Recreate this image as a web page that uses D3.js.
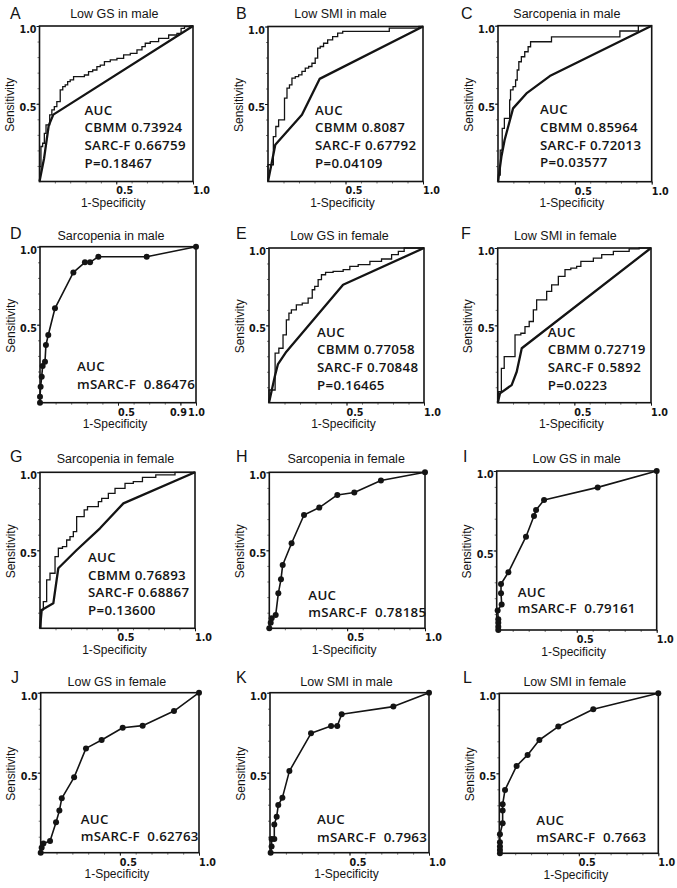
<!DOCTYPE html>
<html><head><meta charset="utf-8">
<script src="https://cdn.jsdelivr.net/npm/d3@7/dist/d3.min.js"></script>
<style>body{margin:0;background:#fff}svg{display:block}</style>
</head><body>
<svg id="chart" width="677" height="888"></svg>
<script>
// ---------------- DATA ----------------
const panelLetters = ["A","B","C","D","E","F","G","H","I","J","K","L"];
const panelTitles = ["Low GS in male","Low SMI in male","Sarcopenia in male","Sarcopenia in male",
  "Low GS in female","Low SMI in female","Sarcopenia in female","Sarcopenia in female",
  "Low GS in male","Low GS in female","Low SMI in male","Low SMI in female"];
const aucTexts = [
  ["AUC","CBMM 0.73924","SARC-F 0.66759","P=0.18467"],
  ["AUC","CBMM 0.8087","SARC-F 0.67792","P=0.04109"],
  ["AUC","CBMM 0.85964","SARC-F 0.72013","P=0.03577"],
  ["AUC","mSARC-F  0.86476"],
  ["AUC","CBMM 0.77058","SARC-F 0.70848","P=0.16465"],
  ["AUC","CBMM 0.72719","SARC-F 0.5892","P=0.0223"],
  ["AUC","CBMM 0.76893","SARC-F 0.68867","P=0.13600"],
  ["AUC","mSARC-F  0.78185"],
  ["AUC","mSARC-F  0.79161"],
  ["AUC","mSARC-F  0.62763"],
  ["AUC","mSARC-F  0.7963"],
  ["AUC","mSARC-F  0.7663"]
];
const xTickValues = [0.5, 1.0];
const xTickValuesD = [0.5, 0.9, 1.0];
const yTickValues = [0.5, 1.0];
const minorTickValues = [0.1,0.2,0.3,0.4,0.5,0.6,0.7,0.8,0.9,1.0];

// CBMM (stepped) and SARC-F curves, [1-specificity, sensitivity]
const cbmmA = [[0,0],[0.004,0.096],[0.015,0.225],[0.026,0.246],[0.037,0.31],[0.048,0.364],[0.063,0.364],[0.07,0.428],[0.091,0.46],[0.102,0.482],[0.124,0.514],[0.146,0.589],[0.157,0.61],[0.178,0.621],[0.189,0.642],[0.211,0.653],[0.233,0.675],[0.276,0.675],[0.309,0.685],[0.33,0.707],[0.363,0.717],[0.385,0.739],[0.407,0.749],[0.439,0.771],[0.483,0.782],[0.526,0.792],[0.57,0.814],[0.613,0.824],[0.657,0.846],[0.678,0.867],[0.7,0.889],[0.743,0.9],[0.809,0.921],[0.874,0.942],[0.917,0.953],[0.928,0.985],[0.961,0.996],[1,1]];
const sarcfA = [[0,0],[0.03,0.15],[0.06,0.36],[0.09,0.43],[1,1]];

const cbmmB = [[0,0],[0,0.108],[0.026,0.108],[0.043,0.29],[0.058,0.355],[0.079,0.398],[0.101,0.398],[0.112,0.538],[0.133,0.602],[0.144,0.624],[0.165,0.667],[0.187,0.677],[0.208,0.688],[0.23,0.71],[0.251,0.731],[0.273,0.742],[0.294,0.763],[0.315,0.796],[0.326,0.86],[0.348,0.871],[0.369,0.892],[0.401,0.914],[0.433,0.935],[0.466,0.957],[0.498,0.968],[0.777,0.968],[0.788,0.989],[0.948,0.989],[1,1]];
const sarcfB = [[0,0],[0.02,0.1],[0.047,0.237],[0.219,0.43],[0.333,0.662],[1,1]];

const cbmmC = [[0,0],[0.007,0.043],[0.022,0.203],[0.033,0.342],[0.05,0.406],[0.076,0.406],[0.076,0.524],[0.087,0.588],[0.109,0.609],[0.12,0.652],[0.13,0.716],[0.141,0.769],[0.163,0.801],[0.185,0.833],[0.207,0.865],[0.217,0.897],[0.337,0.897],[0.359,0.929],[0.793,0.929],[0.793,0.966],[0.913,0.966],[0.913,1],[1,1]];
const sarcfC = [[0,0],[0.022,0.16],[0.043,0.267],[0.098,0.47],[0.185,0.566],[0.337,0.677],[1,1]];

const cbmmE = [[0,0],[0,0.082],[0.032,0.082],[0.047,0.32],[0.08,0.352],[0.101,0.438],[0.123,0.536],[0.134,0.579],[0.155,0.6],[0.198,0.633],[0.231,0.644],[0.274,0.676],[0.284,0.73],[0.306,0.752],[0.328,0.795],[0.349,0.827],[0.381,0.842],[0.446,0.849],[0.511,0.86],[0.532,0.881],[0.619,0.892],[0.683,0.914],[0.769,0.929],[0.813,0.957],[0.856,0.978],[0.888,1],[1,1]];
const sarcfE = [[0,0],[0.037,0.168],[0.058,0.25],[0.112,0.33],[0.478,0.762],[1,1]];

const cbmmF = [[0,0],[0.011,0.071],[0.037,0.222],[0.048,0.298],[0.091,0.298],[0.135,0.438],[0.167,0.449],[0.189,0.492],[0.222,0.525],[0.243,0.6],[0.265,0.665],[0.309,0.665],[0.33,0.719],[0.374,0.762],[0.417,0.816],[0.461,0.86],[0.493,0.87],[0.537,0.881],[0.548,0.914],[0.602,0.914],[0.646,0.935],[0.711,0.957],[0.798,0.978],[0.917,0.994],[0.928,1],[1,1]];
const sarcfF = [[0,0],[0.015,0.06],[0.091,0.114],[0.124,0.2],[0.157,0.352],[1,1]];

const cbmmG = [[0,0],[0.011,0.118],[0.032,0.171],[0.054,0.31],[0.075,0.353],[0.086,0.353],[0.108,0.459],[0.129,0.513],[0.161,0.524],[0.183,0.566],[0.204,0.588],[0.226,0.62],[0.247,0.716],[0.28,0.716],[0.29,0.759],[0.323,0.78],[0.366,0.78],[0.387,0.812],[0.409,0.833],[0.473,0.865],[0.495,0.897],[0.538,0.897],[0.559,0.929],[0.645,0.94],[0.677,0.968],[0.817,0.983],[0.925,1],[1,1]];
const sarcfG = [[0,0],[0.011,0.118],[0.086,0.16],[0.118,0.385],[0.237,0.502],[0.387,0.641],[0.538,0.801],[1,1]];

// mSARC-F curves with points
const msarcfD = [[0,0],[0,0.038],[0.004,0.103],[0.011,0.167],[0.017,0.235],[0.032,0.263],[0.038,0.37],[0.053,0.434],[0.096,0.605],[0.214,0.835],[0.288,0.9],[0.321,0.9],[0.374,0.936],[0.684,0.936],[1,1]];
const msarcfH = [[0,0],[0.009,0.036],[0.015,0.064],[0.041,0.085],[0.058,0.224],[0.075,0.314],[0.086,0.406],[0.143,0.545],[0.223,0.726],[0.321,0.774],[0.437,0.855],[0.546,0.87],[0.717,0.947],[1,1]];
const msarcfI = [[0.01,0],[0.01,0.021],[0.01,0.046],[0.01,0.067],[0.006,0.122],[0.031,0.161],[0.027,0.231],[0.027,0.289],[0.073,0.363],[0.183,0.587],[0.233,0.717],[0.246,0.755],[0.296,0.818],[0.631,0.897],[1,1]];
const msarcfJ = [[0,0],[0.006,0.031],[0.017,0.058],[0.059,0.073],[0.097,0.19],[0.118,0.263],[0.133,0.34],[0.211,0.471],[0.286,0.652],[0.385,0.704],[0.518,0.781],[0.644,0.794],[0.842,0.885],[1,1]];
const msarcfK = [[0.004,0],[0.01,0.038],[0.01,0.085],[0.027,0.085],[0.027,0.177],[0.042,0.225],[0.052,0.298],[0.078,0.344],[0.122,0.51],[0.258,0.746],[0.384,0.792],[0.423,0.792],[0.451,0.865],[0.776,0.913],[1,1]];
const msarcfL = [[0.004,0],[0.004,0.021],[0.004,0.042],[0.004,0.069],[0.004,0.119],[0.021,0.188],[0.021,0.267],[0.021,0.306],[0.036,0.396],[0.109,0.546],[0.178,0.615],[0.252,0.708],[0.371,0.792],[0.591,0.9],[1,1]];

// ---------------- LAYOUT ----------------
// box: [left, top, width, height]
const layout = [
  {box:[39.5,26,153.5,155.5], letterX:10, titleDx:-2, aucDx:45, aucY:88.5, aucGap:17.7},
  {box:[268,26.5,155,155], letterX:236, titleDx:-5, aucDx:47, aucY:88, aucGap:17.7},
  {box:[498,25.7,153.7,156], letterX:461, titleDx:-8, aucDx:42, aucY:88.5, aucGap:17.7},
  {box:[40,246.7,156,156], letterX:10, titleDx:-7, aucDx:37, aucY:124.5, aucGap:18},
  {box:[269,248,155,154.7], letterX:236, titleDx:-7, aucDx:48, aucY:88.5, aucGap:17.7},
  {box:[497.7,248,153.3,154.7], letterX:461, titleDx:-9, aucDx:50, aucY:88.5, aucGap:17.7},
  {box:[40,472.3,155,156], letterX:10, titleDx:-2, aucDx:48, aucY:89.5, aucGap:17.7},
  {box:[269.3,472.3,155.7,156], letterX:236, titleDx:-1, aucDx:39, aucY:127.5, aucGap:16.8},
  {box:[496.7,471,160,159], letterX:463, titleDx:0, aucDx:21, aucY:125.5, aucGap:16.8},
  {box:[40.7,692.7,158.3,160], letterX:11, titleDx:-3, aucDx:40, aucY:131.5, aucGap:16.8},
  {box:[270,692.7,159,160], letterX:236, titleDx:-3, aucDx:47, aucY:131.5, aucGap:17.5},
  {box:[499.3,693.3,159,160], letterX:463, titleDx:-4, aucDx:37, aucY:131.5, aucGap:17}
];
const letterBaseline = [18.5,18.5,18.5,239,239,239,461.5,461.5,461.5,683.3,683.3,683.3];
const titleBaseline = [17.5,17.5,17.5,240,240,240,463,463,463,685.5,685.5,685.5];

const curveSets = [
  {step:cbmmA, thick:sarcfA},
  {step:cbmmB, thick:sarcfB},
  {step:cbmmC, thick:sarcfC},
  {dots:msarcfD},
  {step:cbmmE, thick:sarcfE},
  {step:cbmmF, thick:sarcfF},
  {step:cbmmG, thick:sarcfG},
  {dots:msarcfH},
  {dots:msarcfI},
  {dots:msarcfJ},
  {dots:msarcfK},
  {dots:msarcfL}
];

const INK = "#141414";
const svg = d3.select("#chart");

panelLetters.forEach((letter, i) => {
  const L = layout[i];
  const [left, top, w, h] = L.box;
  const x = d3.scaleLinear().domain([0,1]).range([left, left + w]);
  const y = d3.scaleLinear().domain([0,1]).range([top + h, top]);
  const g = svg.append("g");

  // panel letter
  g.append("text").attr("x", L.letterX).attr("y", letterBaseline[i])
    .attr("font-family","Liberation Sans, Arial, sans-serif").attr("font-size",16)
    .attr("fill",INK).text(letter);
  // title
  g.append("text").attr("x", left + w/2 + L.titleDx).attr("y", titleBaseline[i])
    .attr("text-anchor","middle")
    .attr("font-family","Liberation Sans, Arial, sans-serif").attr("font-size",12.5)
    .attr("fill",INK).text(panelTitles[i]);

  // minor ticks
  const minorX = d3.axisBottom(x).tickValues(minorTickValues).tickSize(2).tickFormat("");
  const minorY = d3.axisLeft(y).tickValues(minorTickValues).tickSize(2).tickFormat("");
  const gmx = g.append("g").attr("transform",`translate(0,${top+h})`).call(minorX);
  const gmy = g.append("g").attr("transform",`translate(${left},0)`).call(minorY);
  [gmx, gmy].forEach(a => { a.select(".domain").remove(); a.selectAll("line").attr("stroke","#555").attr("stroke-width",0.8); });

  // major axes
  const xt = (letter === "D") ? xTickValuesD : xTickValues;
  const xAxis = d3.axisBottom(x).tickValues(xt).tickSize(3).tickPadding(3).tickFormat(d3.format(".1f"));
  const yAxis = d3.axisLeft(y).tickValues(yTickValues).tickSize(3).tickPadding(0).tickFormat(d3.format(".1f"));
  const gx = g.append("g").attr("transform",`translate(0,${top+h})`).call(xAxis);
  const gy = g.append("g").attr("transform",`translate(${left},0)`).call(yAxis);
  [gx, gy].forEach(a => {
    a.select(".domain").remove();
    a.selectAll("line").attr("stroke",INK).attr("stroke-width",1);
    a.selectAll("text").attr("font-family","DejaVu Sans, Verdana, sans-serif")
      .attr("font-weight","bold").attr("font-size",9.6).attr("fill",INK);
  });
  gx.selectAll("text").attr("dx", d => (letter === "D" && d >= 0.9) ? (d >= 0.95 ? 0 : -2.5) : 8);
  gy.selectAll("text").attr("dy","0.68em");

  // axis titles
  g.append("text")
    .attr("transform",`translate(${left-29.5},${top+h/2+1}) rotate(-90)`)
    .attr("text-anchor","middle").attr("dominant-baseline","central")
    .attr("font-family","Liberation Sans, Arial, sans-serif").attr("font-size",12)
    .attr("fill",INK).text("Sensitivity");
  g.append("text")
    .attr("x", left + w/2 - 3).attr("y", top + h + 21.5)
    .attr("text-anchor","middle").attr("dominant-baseline","central")
    .attr("font-family","Liberation Sans, Arial, sans-serif").attr("font-size",12)
    .attr("fill",INK).text("1-Specificity");

  // curves
  const cs = curveSets[i];
  const clipId = "clip" + letter;
  svg.append("clipPath").attr("id", clipId).append("rect")
    .attr("x", left - 4).attr("y", top - 4).attr("width", w + 8).attr("height", h + 8);
  const plot = g.append("g").attr("clip-path", `url(#${clipId})`);
  if (cs.step) {
    const stepLine = d3.line().x(d => x(d[0])).y(d => y(d[1])).curve(d3.curveStep);
    plot.append("path").datum(cs.step).attr("d", stepLine)
      .attr("fill","none").attr("stroke",INK).attr("stroke-width",1.3).attr("stroke-linejoin","miter");
  }
  if (cs.thick) {
    const line = d3.line().x(d => x(d[0])).y(d => y(d[1]));
    plot.append("path").datum(cs.thick).attr("d", line)
      .attr("fill","none").attr("stroke",INK).attr("stroke-width",2.3).attr("stroke-linejoin","round");
  }
  if (cs.dots) {
    const line = d3.line().x(d => x(d[0])).y(d => y(d[1]));
    plot.append("path").datum(cs.dots).attr("d", line)
      .attr("fill","none").attr("stroke",INK).attr("stroke-width",1.6).attr("stroke-linejoin","round");
    g.selectAll(null).data(cs.dots).enter().append("circle")
      .attr("cx", d => x(d[0])).attr("cy", d => y(d[1])).attr("r", 3)
      .attr("fill",INK);
  }

  // frame
  g.append("rect").attr("x", left).attr("y", top).attr("width", w).attr("height", h)
    .attr("fill","none").attr("stroke",INK).attr("stroke-width",1.6);

  // AUC text
  const t = g.append("text").attr("font-family","Open Sans, sans-serif")
    .attr("font-weight",600).attr("font-size",13.3).attr("letter-spacing",0.3).attr("fill",INK)
    .attr("xml:space","preserve").style("white-space","pre");
  aucTexts[i].forEach((s, k) => {
    t.append("tspan").attr("x", left + L.aucDx).attr("y", top + L.aucY + k * L.aucGap).text(s);
  });
});
</script>
</body></html>
